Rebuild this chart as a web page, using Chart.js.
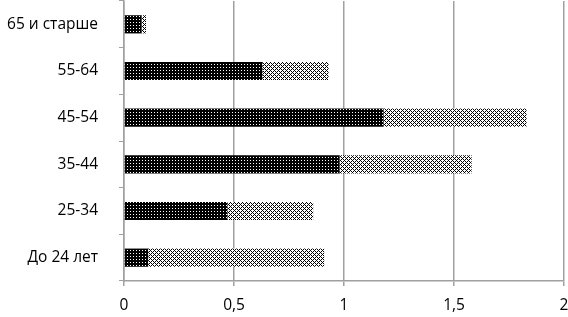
<!DOCTYPE html>
<html><head><meta charset="utf-8">
<script src="https://cdn.jsdelivr.net/npm/chart.js@4"></script>
<style>html,body{margin:0;padding:0;background:#fff}#wrap{width:568px;height:317px}</style>
</head><body><div id="wrap"><canvas id="c" width="568" height="317"></canvas></div>
<script>
const categories = ["65 и старше", "55-64", "45-54", "35-44", "25-34", "До 24 лет"];
const seriesDark = [0.08, 0.63, 1.18, 0.98, 0.47, 0.11];
const seriesLight = [0.02, 0.30, 0.65, 0.60, 0.39, 0.80];
const xTicks = [0, 0.5, 1, 1.5, 2];

function makePattern(kind) {
  const s = kind === 'dark' ? 3 : 4;
  const pc = document.createElement('canvas');
  pc.width = s; pc.height = s;
  const g = pc.getContext('2d');
  const img = g.createImageData(s, s);
  for (let y = 0; y < s; y++) for (let x = 0; x < s; x++) {
    let v;
    if (kind === 'dark') v = (x === 1 && y === 1) ? 255 : 0;
    else v = ((x + y) % 4 === 0 || ((x - y) % 4 + 4) % 4 === 0) ? 0 : 255;
    const i = (y * s + x) * 4;
    img.data[i] = img.data[i+1] = img.data[i+2] = v; img.data[i+3] = 255;
  }
  g.putImageData(img, 0, 0);
  return document.getElementById('c').getContext('2d').createPattern(pc, 'repeat');
}

const font = { family: "'Open Sans', sans-serif", size: 15.5 };
new Chart(document.getElementById('c'), {
  type: 'bar',
  data: {
    labels: categories,
    datasets: [
      { data: seriesDark, backgroundColor: makePattern('dark'), borderWidth: 0, categoryPercentage: 1, barPercentage: 0.39 },
      { data: seriesLight, backgroundColor: makePattern('light'), borderWidth: 0, categoryPercentage: 1, barPercentage: 0.39 }
    ]
  },
  options: {
    indexAxis: 'y',
    responsive: false,
    animation: false,
    layout: { padding: { top: 1, right: 4, left: 0, bottom: 0 } },
    plugins: { legend: { display: false }, tooltip: { enabled: false } },
    scales: {
      x: {
        stacked: true, min: 0, max: 2,
        afterBuildTicks: a => { a.ticks = xTicks.map(v => ({ value: v })); },
        afterFit: a => { a.height = 36; a.paddingLeft = 0; a.paddingRight = 0; },
        grid: { color: '#a0a0a0', lineWidth: 1.5, tickLength: 5 },
        border: { color: '#a0a0a0', width: 1.5 },
        ticks: { color: '#000', font: font, padding: 10, callback: v => String(v).replace('.', ',') }
      },
      y: {
        stacked: true,
        afterFit: a => { a.width = 124; a.paddingTop = 0; a.paddingBottom = 0; },
        grid: { drawOnChartArea: false, color: '#a0a0a0', tickLength: 5 },
        border: { color: '#a0a0a0', width: 1.5 },
        ticks: { color: '#000', font: font, padding: 21 }
      }
    }
  }
});
</script></body></html>
